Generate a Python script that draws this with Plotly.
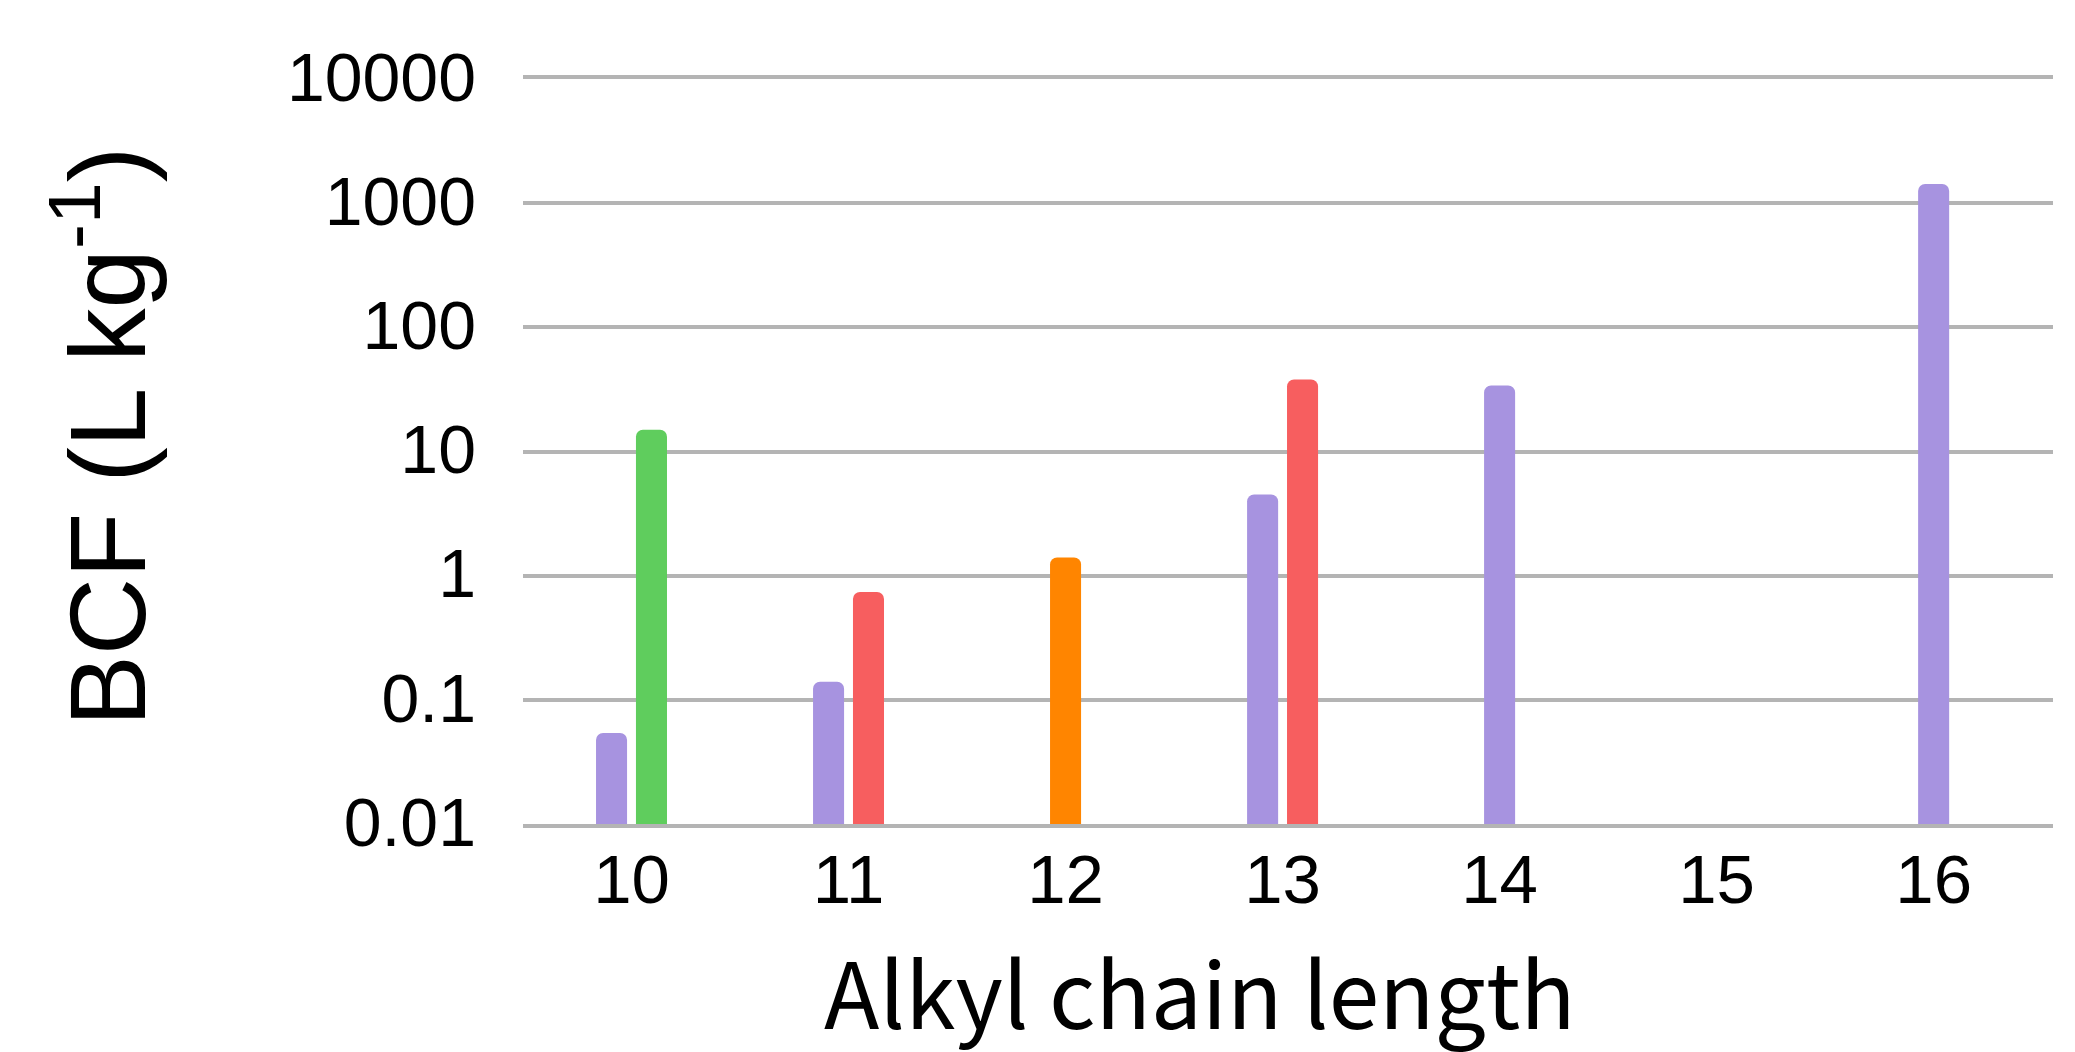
import plotly.graph_objects as go

# Chain lengths shown on the category axis
chain_lengths = [10, 11, 12, 13, 14, 15, 16]
tick_labels = ["10", "11", "12", "13", "14", "15", "16"]

# BCF values (L/kg) for each homologue series, keyed by chain length
series_purple_x = [10, 11, 13, 14, 16]
series_purple_y = [0.054, 0.14, 4.5, 34, 1430]

series_green_x = [10]
series_green_y = [15]

series_red_x = [11, 13]
series_red_y = [0.74, 38]

series_orange_x = [12]
series_orange_y = [1.4]

y_tick_vals = [0.01, 0.1, 1, 10, 100, 1000, 10000]
y_tick_text = ["0.01", "0.1", "1", "10", "100", "1000", "10000"]

series = [
    (series_purple_x, series_purple_y, "#a793e0"),
    (series_green_x, series_green_y, "#5fcd5d"),
    (series_red_x, series_red_y, "#f75e5f"),
    (series_orange_x, series_orange_y, "#ff8500"),
]

# Bars within one chain length sit side by side, centred on the tick
BAR_W = 0.143
BAR_GAP = 0.041
counts = {}
for xs, _, _ in series:
    for x in xs:
        counts[x] = counts.get(x, 0) + 1
slot_used = {x: 0 for x in counts}

fig = go.Figure()
for xs, ys, color in series:
    offsets = []
    for x in xs:
        n = counts[x]
        start = -(n * BAR_W + (n - 1) * BAR_GAP) / 2
        offsets.append(start + slot_used[x] * (BAR_W + BAR_GAP))
        slot_used[x] += 1
    fig.add_trace(go.Bar(
        x=xs, y=ys,
        width=[BAR_W] * len(xs),
        offset=offsets,
        marker=dict(color=color, line=dict(width=0), cornerradius=7),
        showlegend=False,
    ))

GRID = "#b4b4b4"
fig.update_layout(
    width=2075, height=1052,
    margin=dict(l=523, r=22, t=79, b=228),
    paper_bgcolor="white", plot_bgcolor="white",
    barmode="overlay",
    xaxis=dict(
        range=[9.5, 16.55],
        tickmode="array", tickvals=chain_lengths, ticktext=tick_labels,
        showgrid=False, zeroline=False,
        showline=True, linecolor=GRID, linewidth=4, mirror=True,
        ticks="", ticklabelstandoff=-8,
        tickfont=dict(family="Liberation Sans, Arial, sans-serif", size=69, color="black"),
    ),
    yaxis=dict(
        type="log", range=[-2, 4],
        tickmode="array", tickvals=y_tick_vals, ticktext=y_tick_text,
        showgrid=True, gridcolor=GRID, gridwidth=4,
        zeroline=False, showline=False,
        ticks="", ticklabelstandoff=46, ticklabelshift=-2,
        tickfont=dict(family="Liberation Sans, Arial, sans-serif", size=68, color="black"),
    ),
    annotations=[
        dict(
            text="BCF (L kg<sup>-1</sup>)",
            xref="paper", yref="paper", x=-0.2765, y=0.52,
            xanchor="center", yanchor="middle", textangle=-90, showarrow=False,
            font=dict(family="Liberation Sans, Arial, sans-serif", size=107, color="black"),
        ),
        dict(
            text="Alkyl chain length",
            xref="paper", yref="paper", x=0.442, y=-0.222,
            xanchor="center", yanchor="middle", showarrow=False,
            font=dict(family="Noto Sans CJK SC, Noto Sans, sans-serif", size=91, color="black"),
        ),
    ],
)

fig.write_html("out.html")
